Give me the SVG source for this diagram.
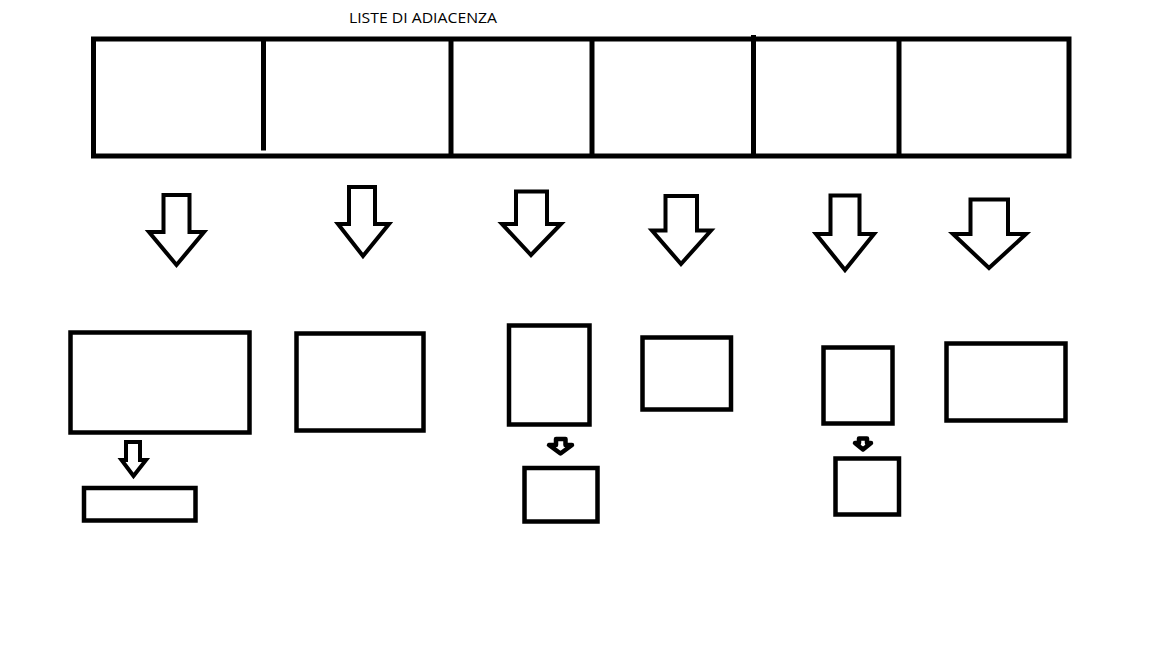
<svg xmlns="http://www.w3.org/2000/svg" width="1152" height="648" viewBox="0 0 1152 648">
<style>
.box{fill:#fff;stroke:#000;stroke-width:4.5}
.bar{fill:none;stroke:#000;stroke-width:5}
.arr{fill:#fff;stroke:#000;stroke-width:4;stroke-linejoin:miter}
.arr-s{fill:#fff;stroke:#000;stroke-width:4.5;stroke-linejoin:round}
.title{font-family:"Open Sans","Liberation Sans",sans-serif;font-size:14.5px;fill:#000}
</style>
<rect width="1152" height="648" fill="#fff"/>
<text class="title" x="349" y="23" textLength="148" lengthAdjust="spacingAndGlyphs">LISTE DI ADIACENZA</text>
<g id="array">
<rect class="bar" x="93.5" y="39" width="975.5" height="117"/>
<line class="bar" x1="263.5" y1="39" x2="263.5" y2="150.5"/>
<line class="bar" x1="451" y1="39" x2="451" y2="156"/>
<line class="bar" x1="592" y1="39" x2="592" y2="156"/>
<line class="bar" x1="753.5" y1="35" x2="753.5" y2="156"/>
<line class="bar" x1="899" y1="39" x2="899" y2="156"/>
</g>
<g id="nodeA"><rect class="box" x="70.5" y="332.5" width="179" height="100"/></g>
<g id="nodeA2"><rect class="box" x="84" y="488" width="111.5" height="32.5"/></g>
<g id="nodeB"><rect class="box" x="296.5" y="333.5" width="127" height="97"/></g>
<g id="nodeC"><rect class="box" x="509" y="325.5" width="80.5" height="99"/></g>
<g id="nodeC2"><rect class="box" x="524.5" y="468" width="73" height="53.5"/></g>
<g id="nodeD"><rect class="box" x="642.5" y="337.5" width="88.5" height="72"/></g>
<g id="nodeE"><rect class="box" x="823.5" y="347.5" width="69" height="76"/></g>
<g id="nodeE2"><rect class="box" x="835.5" y="458.5" width="63.5" height="56"/></g>
<g id="nodeF"><rect class="box" x="946.5" y="343.5" width="119" height="77"/></g>
<g id="connectors">
<polygon class="arr" points="163.5,195 189.5,195 189.5,232 204,232 176.5,265 149,232 163.5,232"/>
<polygon class="arr" points="349,187 375,187 375,224 389,224 363,256 338,224 349,224"/>
<polygon class="arr" points="516,191.5 547,191.5 547,224 561,224 531,255 502,224 516,224"/>
<polygon class="arr" points="665.5,196 697,196 697,230.5 711,230.5 681,264 652,230.5 665.5,230.5"/>
<polygon class="arr" points="830.5,195.5 859.5,195.5 859.5,234 874,234 845,270 816,234 830.5,234"/>
<polygon class="arr" points="970.5,199.5 1008,199.5 1008,234 1026,234 989,268 953,234 970.5,234"/>
<polygon class="arr" points="126,442 140,442 140,460 146,460 133.5,476 121.5,460 126,460"/>
<polygon class="arr-s" points="556,439 565.5,439 565.5,445 572,445 560.5,453.5 549,445 556,445"/>
<polygon class="arr-s" points="859,438.5 867,438.5 867,443 871,443 863,449.5 855,443 859,443"/>
</g>
</svg>
